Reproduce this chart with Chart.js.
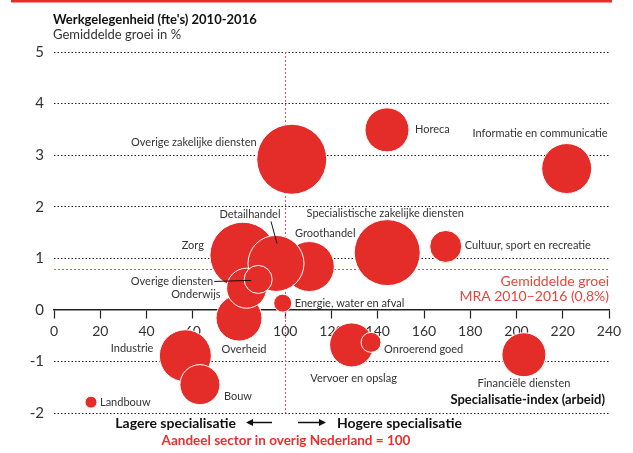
<!DOCTYPE html>
<html>
<head>
<meta charset="utf-8">
<script src="https://cdn.jsdelivr.net/npm/chart.js@4"></script>
<style>
  body { margin: 0; background: #fff; }
  canvas { display: block; }
</style>
</head>
<body>
<canvas id="grafiek" width="633" height="453"></canvas>
<script>
// ---------------- DATA ----------------
const sectoren = [
    "Landbouw", "Industrie", "Bouw", "Overheid", "Zorg", "Groothandel",
    "Detailhandel", "Onderwijs", "Overige diensten", "Energie, water en afval",
    "Overige zakelijke diensten", "Horeca", "Specialistische zakelijke diensten",
    "Cultuur, sport en recreatie", "Informatie en communicatie",
    "Vervoer en opslag", "Onroerend goed", "Financiële diensten"
];
// specialisatie-index (x)
const specialisatie = [16, 56.8, 63.1, 80, 81.7, 110.4, 96, 83.3, 88.3, 98.9, 102.8, 144, 144.1, 169.4, 221.7, 128.7, 137.1, 203.2];
// gemiddelde groei in % (y)
const groei = [-1.79, -0.89, -1.45, -0.16, 1.06, 0.84, 0.90, 0.42, 0.59, 0.13, 2.92, 3.49, 1.11, 1.23, 2.74, -0.68, -0.63, -0.87];
// omvang sector (bubbelstraal)
const omvang = [6, 26, 20, 23, 33, 25, 28, 20, 14, 9, 35, 22, 33, 16, 25, 22, 10, 22];

const xTicks = [0, 20, 40, 60, 80, 100, 120, 140, 160, 180, 200, 220, 240];
const yTicks = [-2, -1, 0, 1, 2, 3, 4, 5];

const gemiddeldeGroei = 0.8;
const referentieIndex = 100;

// label placement relative to bubble centre: [dx, dy, align]
const labelPlaats = [
    [9, 0, "left"], [-32, -7, "right"], [24, 12, "left"], [5, 31, "center"],
    [-39, -10, "right"], [16, -33, "center"], [-26, -49, "center"], [-26, 6, "right"],
    [-45, 2, "right"], [12, 0, "left"], [-35, -17, "right"], [28, 0, "left"],
    [-2, -39, "center"], [19, -1, "left"], [41, -35, "right"], [2, 34, "center"],
    [13, 7, "left"], [0, 29, "center"]
];
// leader lines: index -> [x1, y1, x2, y2] relative to bubble centre
const verbindingen = {
    6: [-5, -42, 1, -20],
    8: [-44, 2, -7, 1]
};

const ROOD = "#e42c28";
const TEKST = "#333333";

const bubbels = sectoren.map((s, i) => ({
    x: specialisatie[i],
    y: groei[i],
    r: omvang[i]
}));

// ---------------- ANNOTATIONS ----------------
const annotaties = {
    id: "annotaties",
    beforeDatasetsDraw(chart) {
        const { ctx, chartArea, scales: { x, y } } = chart;
        ctx.save();
        ctx.strokeStyle = "#ea5650";
        ctx.lineWidth = 1;
        ctx.setLineDash([2, 2]);
        const yGem = Math.round(y.getPixelForValue(gemiddeldeGroei)) + 0.5;
        ctx.beginPath();
        ctx.moveTo(chartArea.left, yGem);
        ctx.lineTo(chartArea.right, yGem);
        ctx.stroke();
        const xRef = Math.round(x.getPixelForValue(referentieIndex)) + 0.5;
        ctx.beginPath();
        ctx.moveTo(xRef, chartArea.top);
        ctx.lineTo(xRef, chartArea.bottom);
        ctx.stroke();
        ctx.restore();
    },
    afterDatasetsDraw(chart) {
        const { ctx, chartArea, scales: { x, y } } = chart;
        ctx.save();
        ctx.font = "11px Lato";
        ctx.fillStyle = TEKST;
        ctx.textBaseline = "middle";
        sectoren.forEach((naam, i) => {
            const cx = x.getPixelForValue(specialisatie[i]);
            const cy = y.getPixelForValue(groei[i]);
            const [dx, dy, align] = labelPlaats[i];
            ctx.textAlign = align;
            ctx.fillText(naam, cx + dx, cy + dy);
            const lijn = verbindingen[i];
            if (lijn) {
                ctx.strokeStyle = "#111";
                ctx.lineWidth = 1;
                ctx.beginPath();
                ctx.moveTo(cx + lijn[0], cy + lijn[1]);
                ctx.lineTo(cx + lijn[2], cy + lijn[3]);
                ctx.stroke();
            }
        });

        // average growth note
        ctx.fillStyle = "#e8453f";
        ctx.font = "14px Lato";
        ctx.textAlign = "right";
        const yGem = y.getPixelForValue(gemiddeldeGroei);
        ctx.fillText("Gemiddelde groei", chartArea.right, yGem + 12.5);
        ctx.fillText("MRA 2010\u20132016 (0,8%)", chartArea.right, yGem + 27.5);
        ctx.restore();
    },
    afterDraw(chart) {
        const { ctx, chartArea } = chart;
        ctx.save();
        // top red bar
        ctx.fillStyle = ROOD;
        ctx.fillRect(11, 0, 601, 2.5);

        ctx.fillStyle = "#111";
        ctx.textBaseline = "middle";
        ctx.textAlign = "left";
        ctx.font = "bold 13px Lato";
        ctx.fillText("Werkgelegenheid (fte's) 2010-2016", 53, 20);
        ctx.font = "13px Lato";
        ctx.fillStyle = TEKST;
        ctx.fillText("Gemiddelde groei in %", 53, 34.5);

        ctx.fillStyle = "#111";
        ctx.font = "bold 13px Lato";
        ctx.textAlign = "right";
        ctx.fillText("Specialisatie-index (arbeid)", chartArea.right - 4, 399.5);
        ctx.font = "bold 14px Lato";
        ctx.fillText("Lagere specialisatie", 236, 423);
        ctx.textAlign = "left";
        ctx.fillText("Hogere specialisatie", 337, 423);

        // arrows
        ctx.strokeStyle = "#111";
        ctx.lineWidth = 1.3;
        ctx.beginPath();
        ctx.moveTo(248, 422.5); ctx.lineTo(272, 422.5);
        ctx.moveTo(298, 422.5); ctx.lineTo(324, 422.5);
        ctx.stroke();
        ctx.fillStyle = "#111";
        ctx.beginPath();
        ctx.moveTo(246, 422.5); ctx.lineTo(253, 419); ctx.lineTo(253, 426); ctx.closePath();
        ctx.moveTo(326, 422.5); ctx.lineTo(319, 419); ctx.lineTo(319, 426); ctx.closePath();
        ctx.fill();

        ctx.fillStyle = "#e8302b";
        ctx.font = "bold 13.5px Lato";
        ctx.textAlign = "center";
        ctx.fillText("Aandeel sector in overig Nederland = 100", 286, 441);
        ctx.restore();
    }
};

// ---------------- CHART ----------------
const ctx = document.getElementById("grafiek").getContext("2d");

new Chart(ctx, {
    type: "bubble",
    data: {
        datasets: [{
            label: "Sectoren",
            data: bubbels,
            backgroundColor: ROOD,
            borderColor: "#ffffff",
            borderWidth: 1,
            hoverBackgroundColor: ROOD,
            hoverBorderColor: "#ffffff",
            clip: false
        }]
    },
    options: {
        responsive: false,
        animation: false,
        devicePixelRatio: 1,
        layout: {
            autoPadding: false,
            padding: { top: 52, right: 24, bottom: 40, left: 0 }
        },
        plugins: {
            legend: { display: false },
            tooltip: { enabled: false }
        },
        scales: {
            x: {
                type: "linear",
                min: xTicks[0],
                max: xTicks[xTicks.length - 1],
                position: { y: 0 },
                afterBuildTicks: scale => {
                    scale.ticks = xTicks.map(v => ({ value: v }));
                },
                afterFit: scale => {
                    scale.height = 0;
                },
                grid: {
                    drawOnChartArea: false,
                    drawTicks: true,
                    tickLength: 8,
                    tickColor: "#222",
                    tickWidth: 1.2
                },
                border: { display: true, color: "#222", width: 1.5 },
                ticks: {
                    color: TEKST,
                    padding: 5,
                    maxRotation: 0,
                    font: { family: "Lato", size: 14 }
                }
            },
            y: {
                type: "linear",
                min: yTicks[0],
                max: yTicks[yTicks.length - 1],
                afterBuildTicks: scale => {
                    scale.ticks = yTicks.map(v => ({ value: v }));
                },
                afterFit: scale => {
                    scale.width = 54;
                },
                grid: {
                    drawTicks: false,
                    lineWidth: 1,
                    color: c => (c.tick && c.tick.value === 0) ? "rgba(0,0,0,0)" : "#222"
                },
                border: { display: false, dash: [1.5, 2] },
                ticks: {
                    color: TEKST,
                    padding: 10,
                    font: { family: "Lato", size: 15 }
                }
            }
        }
    },
    plugins: [annotaties]
});
</script>
</body>
</html>
